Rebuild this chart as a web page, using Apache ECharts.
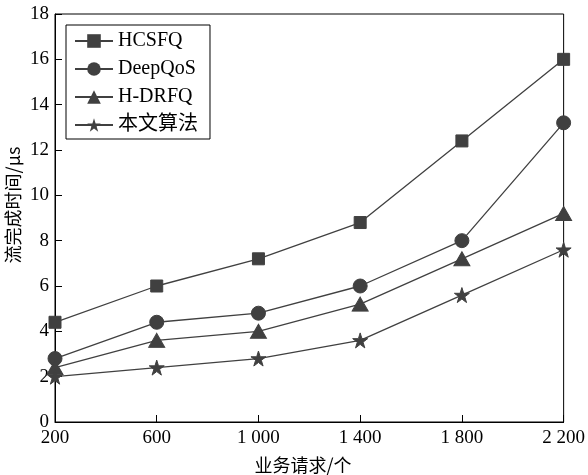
<!DOCTYPE html>
<html><head><meta charset="utf-8">
<script src="https://cdn.jsdelivr.net/npm/echarts@6/dist/echarts.min.js"></script>
<style>html,body{margin:0;padding:0;background:#fff}#c{width:588px;height:475px}</style>
</head><body><div id="c"></div>
<script>
var categories = ['200', '600', '1 000', '1 400', '1 800', '2 200'];
var hcsfq = [4.4, 6.0, 7.2, 8.8, 12.4, 16.0];
var deepqos = [2.8, 4.4, 4.8, 6.0, 8.0, 13.2];
var hdrfq = [2.4, 3.6, 4.0, 5.2, 7.2, 9.2];
var ours = [2.0, 2.4, 2.8, 3.6, 5.6, 7.6];
var seriesNames = ['HCSFQ', 'DeepQoS', 'H-DRFQ', '本文算法'];
var xTitle = '业务请求/个';
var yTitle = '流完成时间/μs';

var FONT = '"Liberation Serif", "Noto Sans CJK SC", serif';
var CJK = '"Noto Sans CJK SC", "Liberation Serif", serif';
var C = '#404040';
var star = 'path://M100,0 L122.45,69.1 L195.1,69.1 L136.3,111.8 L158.8,180.9 L100,138.2 L41.2,180.9 L63.7,111.8 L4.9,69.1 L77.55,69.1 Z';
var symbols = ['rect', 'circle', 'triangle', star];
var sizes = [12, 14, [16, 14], 15];
var datas = [hcsfq, deepqos, hdrfq, ours];

var chart = echarts.init(document.getElementById('c'), null, {renderer: 'canvas'});
chart.setOption({
  animation: false,
  backgroundColor: '#fff',
  grid: {left: 55, right: 21, top: 14, bottom: 53, show: true, borderColor: '#000', borderWidth: 1},
  legend: {
    orient: 'vertical', left: 66, top: 25,
    borderColor: '#000', borderWidth: 1, padding: [6, 12, 4, 8],
    itemWidth: 38, itemHeight: 17, itemGap: 8,
    textStyle: {fontFamily: FONT, fontSize: 20, lineHeight: 20, color: '#000'},
    data: seriesNames
  },
  graphic: [
    {type: 'text', silent: true, x: 303, y: 465,
     style: {text: xTitle, x: 0, y: 0, align: 'center', verticalAlign: 'middle', font: '18px ' + CJK, fill: '#000'}},
    {type: 'text', silent: true, rotation: Math.PI / 2, x: 13, y: 205,
     style: {text: yTitle, x: 0, y: 0, align: 'center', verticalAlign: 'middle', font: '18px ' + CJK, fill: '#000'}}
  ],
  xAxis: {
    type: 'category', data: categories, boundaryGap: false,
    axisLine: {lineStyle: {color: '#000', width: 1}},
    axisTick: {inside: true, length: 7, lineStyle: {color: '#000'}},
    axisLabel: {fontFamily: FONT, fontSize: 19, color: '#000', margin: 7},
    splitLine: {show: false}
  },
  yAxis: {
    type: 'value', min: 0, max: 18, interval: 2,
    axisLine: {show: true, lineStyle: {color: '#000', width: 1}},
    axisTick: {show: true, inside: true, length: 7, lineStyle: {color: '#000'}},
    axisLabel: {fontFamily: FONT, fontSize: 19, color: '#000', margin: 6},
    splitLine: {show: false}
  },
  series: seriesNames.map(function (n, i) {
    return {
      name: n, type: 'line', data: datas[i],
      symbol: symbols[i], symbolSize: sizes[i], showAllSymbol: true,
      lineStyle: {color: C, width: 1.3},
      itemStyle: {color: C, borderColor: C},
      clip: false
    };
  })
});
</script></body></html>
